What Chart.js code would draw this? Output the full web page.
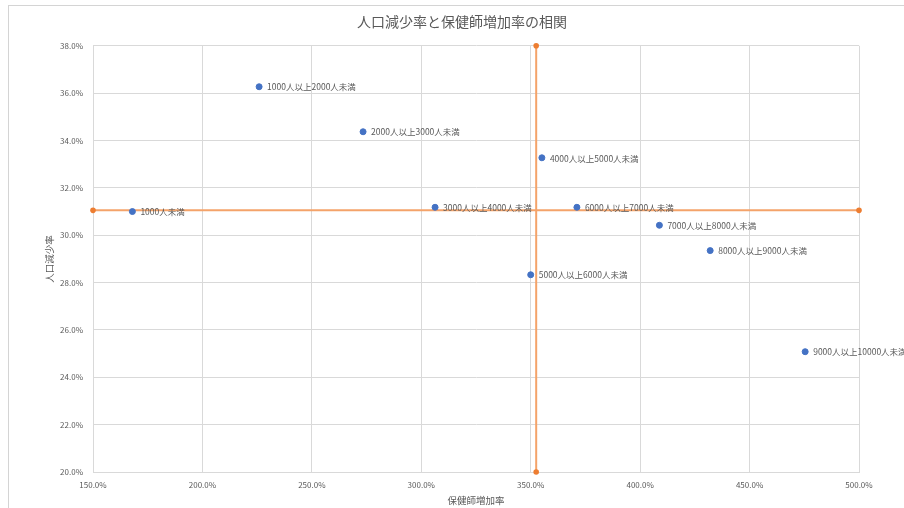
<!DOCTYPE html>
<html lang="ja">
<head>
<meta charset="utf-8">
<title>人口減少率と保健師増加率の相関</title>
<script src="https://cdn.jsdelivr.net/npm/chart.js@4.4.1/dist/chart.umd.min.js"></script>
<style>
  html, body { margin: 0; padding: 0; background: #ffffff; overflow: hidden; }
  #wrap { position: relative; width: 904px; height: 508px; }
  #frame { position: absolute; left: 8px; top: 5px; width: 1000px; height: 1000px;
           border: 1px solid #d4d4d4; box-sizing: border-box; pointer-events: none; }
  canvas { position: absolute; left: 0; top: 0; }
</style>
</head>
<body>
<div id="wrap">
  <div id="frame"></div>
  <canvas id="chart" width="904" height="508"></canvas>
</div>
<script>
// Population-size groups of municipalities
const groups = [
  "1000人未満",
  "1000人以上2000人未満",
  "2000人以上3000人未満",
  "3000人以上4000人未満",
  "4000人以上5000人未満",
  "5000人以上6000人未満",
  "6000人以上7000人未満",
  "7000人以上8000人未満",
  "8000人以上9000人未満",
  "9000人以上10000人未満"
];
// Public-health-nurse increase rate (%) per group
const nurseIncrease = [168.0, 225.9, 273.4, 306.3, 355.1, 350.0, 371.1, 408.8, 432.0, 475.4];
// Population decrease rate (%) per group
const popDecrease = [31.0, 36.27, 34.37, 31.18, 33.27, 28.33, 31.18, 30.42, 29.35, 25.08];

// Reference lines (overall levels)
const refIncrease = 352.5;
const refDecrease = 31.05;

// Axis ranges
const xRange = [150, 500];
const yRange = [20, 38];

const FONT = "'Noto Sans CJK JP', 'Noto Sans', sans-serif";
const TEXT = "#595959";

const points = groups.map((g, i) => ({ x: nurseIncrease[i], y: popDecrease[i], label: g }));

// Draws each group's name to the right of its marker
const pointLabels = {
  id: "pointLabels",
  afterDatasetsDraw(chart) {
    const ctx = chart.ctx;
    const meta = chart.getDatasetMeta(0);
    ctx.save();
    ctx.font = "8.5px " + FONT;
    ctx.fillStyle = TEXT;
    ctx.textAlign = "left";
    ctx.textBaseline = "middle";
    meta.data.forEach((el, i) => {
      ctx.fillText(groups[i], el.x + 8, el.y + 0.5);
    });
    ctx.restore();
  }
};

const refLineStyle = {
  showLine: true,
  borderColor: "#F4A36A",
  borderWidth: 2,
  pointRadius: 2.8,
  pointBorderWidth: 0,
  pointBackgroundColor: "#ED7D31",
  order: 1
};

new Chart(document.getElementById("chart"), {
  type: "scatter",
  data: {
    datasets: [
      {
        label: "人口減少率",
        data: points,
        backgroundColor: "#4472C4",
        borderColor: "#4472C4",
        pointRadius: 3,
        pointHoverRadius: 3,
        order: 0
      },
      Object.assign({
        label: "横線",
        data: [{ x: xRange[0], y: refDecrease }, { x: xRange[1], y: refDecrease }]
      }, refLineStyle),
      Object.assign({
        label: "縦線",
        data: [{ x: refIncrease, y: yRange[0] }, { x: refIncrease, y: yRange[1] }]
      }, refLineStyle)
    ]
  },
  options: {
    responsive: false,
    animation: false,
    clip: false,
    layout: { padding: { left: 38, right: 18, top: 0, bottom: 0 } },
    plugins: {
      legend: { display: false },
      tooltip: { enabled: false },
      title: {
        display: true,
        text: "人口減少率と保健師増加率の相関",
        color: TEXT,
        font: { family: FONT, size: 14, weight: "normal" },
        padding: { top: 13, bottom: 16 }
      }
    },
    scales: {
      x: {
        type: "linear",
        min: xRange[0],
        max: xRange[1],
        afterFit(scale) { scale.height = 36; },
        grid: { color: "#d9d9d9", drawTicks: false },
        border: { color: "#d9d9d9" },
        ticks: {
          stepSize: 50,
          padding: 8,
          color: TEXT,
          font: { family: FONT, size: 8 },
          callback: v => v.toFixed(1) + "%"
        },
        title: {
          display: true,
          text: "保健師増加率",
          color: TEXT,
          font: { family: FONT, size: 9.5 },
          padding: { top: 0, bottom: 2 }
        }
      },
      y: {
        type: "linear",
        min: yRange[0],
        max: yRange[1],
        afterFit(scale) { scale.width = 55; },
        grid: { color: "#d9d9d9", drawTicks: false },
        border: { color: "#d9d9d9" },
        ticks: {
          stepSize: 2,
          padding: 10,
          color: TEXT,
          font: { family: FONT, size: 8 },
          callback: v => v.toFixed(1) + "%"
        },
        title: {
          display: true,
          text: "人口減少率",
          color: TEXT,
          font: { family: FONT, size: 9.5 },
          padding: { top: 6, bottom: 0 }
        }
      },
      // Empty right-hand margin beside the plot
      yRight: {
        type: "linear",
        position: "right",
        min: yRange[0],
        max: yRange[1],
        afterFit(scale) { scale.width = 27; },
        grid: { display: false, drawTicks: false },
        border: { display: false },
        ticks: { display: false }
      }
    }
  },
  plugins: [pointLabels]
});
</script>
</body>
</html>
